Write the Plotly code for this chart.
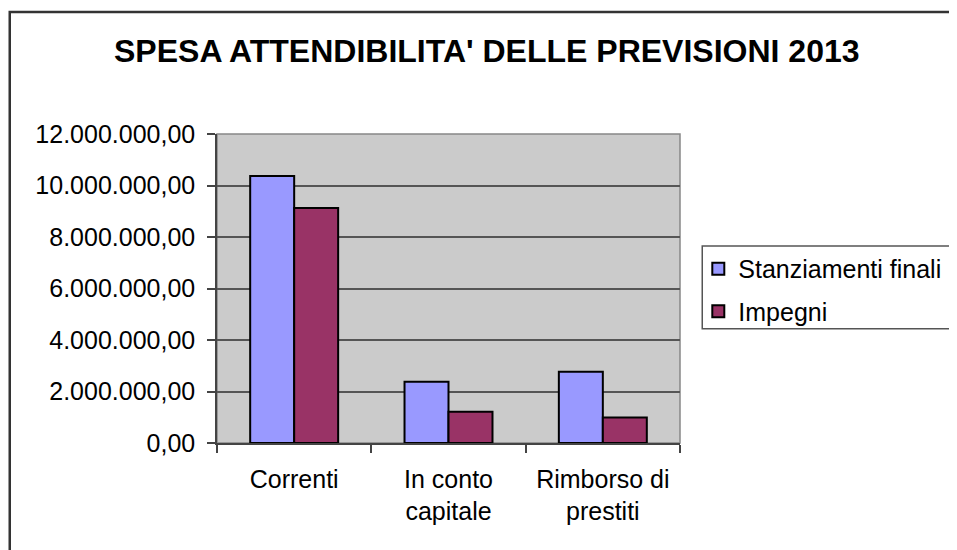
import plotly.graph_objects as go

categories = ["Correnti", "In conto<br>capitale", "Rimborso di<br>prestiti"]
stanziamenti = [10370000, 2380000, 2770000]
impegni = [9130000, 1210000, 990000]
series_names = ["Stanziamenti finali", "Impegni"]
y_ticks = [0, 2000000, 4000000, 6000000, 8000000, 10000000, 12000000]
title_text = "SPESA ATTENDIBILITA' DELLE PREVISIONI 2013"

OFF = 8  # page body margin
W, H = 957, 550
L, R, T, B = 216.7, 680.7, 134.0, 443.3
pw, ph = R - L, B - T

def px(x):
    return (x - L) / pw

def py(y):
    return (B - y) / ph

FONT = "Liberation Sans, Arial, sans-serif"
FS = 25

fig = go.Figure()
fig.add_trace(go.Bar(
    x=categories, y=stanziamenti, name=series_names[0], legendgroup="a",
    marker=dict(color="#9999FF", line=dict(color="#000000", width=2)),
))
fig.add_trace(go.Bar(
    x=categories, y=impegni, name=series_names[1], legendgroup="b",
    marker=dict(color="#993366", line=dict(color="#000000", width=2)),
))

fig.update_layout(
    width=W - OFF, height=H - OFF,
    margin=dict(l=L - OFF, r=W - R, t=T - OFF, b=H - B, pad=0),
    paper_bgcolor="white",
    plot_bgcolor="#CBCBCB",
    font=dict(family=FONT, size=FS, color="#000000"),
    separators=",.",
    barmode="group",
    bargap=0.43,
    bargroupgap=0,
    showlegend=True,
    legend=dict(
        x=px(698), y=py(246), xanchor="left", yanchor="top",
        bgcolor="rgba(0,0,0,0)", borderwidth=0,
        font=dict(family=FONT, size=FS),
        traceorder="grouped", tracegroupgap=7,
    ),
    xaxis=dict(
        showgrid=False, showline=True, linecolor="#444444", linewidth=1.5,
        ticks="outside", tickson="boundaries", ticklen=8, tickcolor="#444444",
        tickwidth=1.5, ticklabelstandoff=13,
        tickfont=dict(family=FONT, size=FS),
    ),
    yaxis=dict(
        range=[0, 12000000], tickvals=y_ticks, tickformat=",.2f",
        showgrid=True, gridcolor="#555555", gridwidth=1.5,
        showline=True, linecolor="#444444", linewidth=1.5,
        ticks="outside", ticklen=8, tickcolor="#444444", tickwidth=1.5,
        ticklabelstandoff=7, zeroline=False,
        tickfont=dict(family=FONT, size=FS),
    ),
    shapes=[
        dict(type="rect", xref="paper", yref="paper", x0=0, x1=1, y0=0, y1=1,
             line=dict(color="#888888", width=1.5), layer="below"),
        dict(type="rect", xref="paper", yref="paper",
             x0=px(703), x1=px(975), y0=py(329), y1=py(246),
             line=dict(color="#555555", width=1.5)),
        dict(type="rect", xref="paper", yref="paper",
             x0=px(9), x1=px(980), y0=py(575), y1=py(12),
             line=dict(color="#333333", width=2.5)),
    ],
    annotations=[
        dict(text="<b>" + title_text + "</b>", xref="paper", yref="paper",
             x=px(487), y=py(51), xanchor="center", yanchor="middle",
             showarrow=False, font=dict(family=FONT, size=32, color="#000000")),
    ],
)

fig.write_html("out.html")
